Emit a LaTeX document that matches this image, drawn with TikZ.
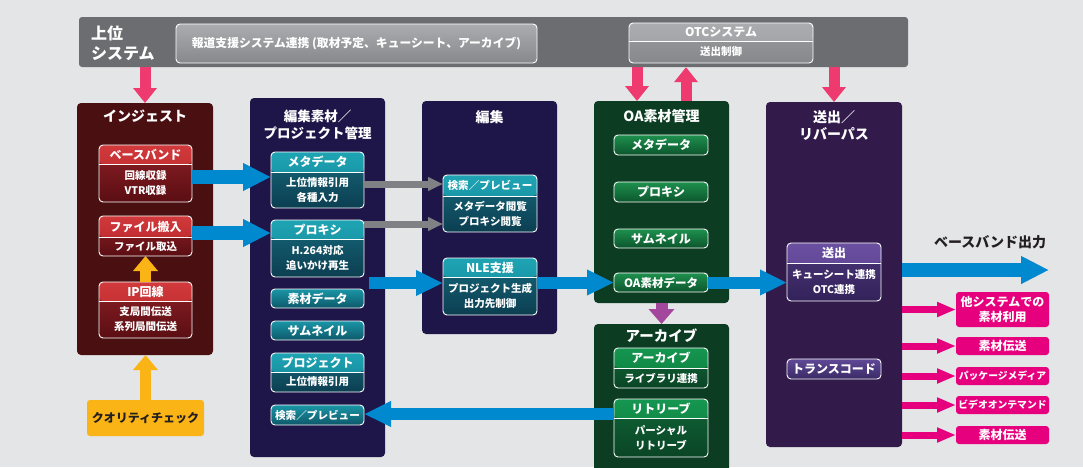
\documentclass[tikz,border=0pt]{standalone}
\usepackage{fontspec}
\setmainfont{Noto Sans CJK JP}
\usetikzlibrary{arrows.meta,calc}
\definecolor{bgc}{HTML}{E4E5E7}
\definecolor{topgray}{HTML}{6C6D70}
\definecolor{gryT}{HTML}{ABACAF}
\definecolor{gryM}{HTML}{9C9DA0}
\definecolor{gryB}{HTML}{87888B}
\definecolor{ingestc}{HTML}{4A1011}
\definecolor{navyc}{HTML}{1E1548}
\definecolor{greenc}{HTML}{0C3D22}
\definecolor{purc}{HTML}{321B4B}
\definecolor{redHT}{HTML}{D23A3C}
\definecolor{redHB}{HTML}{B02228}
\definecolor{redBT}{HTML}{8E2026}
\definecolor{redBB}{HTML}{5A0E13}
\definecolor{tealHT}{HTML}{1FA4B4}
\definecolor{tealHB}{HTML}{108292}
\definecolor{tealBT}{HTML}{16687B}
\definecolor{tealBB}{HTML}{0C3E51}
\definecolor{tealOT}{HTML}{1A96A6}
\definecolor{tealOB}{HTML}{0D586A}
\definecolor{grnHT}{HTML}{159650}
\definecolor{grnHB}{HTML}{0C7A3C}
\definecolor{grnBT}{HTML}{106537}
\definecolor{grnBB}{HTML}{0A4526}
\definecolor{grnOT}{HTML}{1E904E}
\definecolor{grnOB}{HTML}{0C552C}
\definecolor{purHT}{HTML}{6B50A2}
\definecolor{purHB}{HTML}{553B89}
\definecolor{purBT}{HTML}{4B3679}
\definecolor{purBB}{HTML}{33225A}
\definecolor{purOT}{HTML}{604896}
\definecolor{purOB}{HTML}{3A2A66}
\definecolor{arrBlue}{HTML}{0089CF}
\definecolor{arrPink}{HTML}{EE3A6E}
\definecolor{arrOrange}{HTML}{FBB416}
\definecolor{arrPurple}{HTML}{A2479B}
\definecolor{arrGray}{HTML}{808184}
\definecolor{magc}{HTML}{E6007E}
\definecolor{darktext}{HTML}{231F20}
\newcommand\myfs[2]{\fontsize{#1}{#2}\selectfont}
\tikzset{
  hdrh/.store in=\hdrH,
  sethdr/.code 2 args={\def\hT{#1}\def\hB{#2}},
  twobase/.style={draw=white, line width=0.9pt, rounded corners=4pt, inner sep=0pt, outer sep=0pt,
    path picture={
      \shade[top color=\hT, bottom color=\hB] (path picture bounding box.north west) rectangle ([yshift=-\hdrH pt]path picture bounding box.north east);
      \draw[white, line width=0.9pt] ([yshift=-\hdrH pt]path picture bounding box.north west) -- ([yshift=-\hdrH pt]path picture bounding box.north east);
    }},
  onebase/.style={draw=white, line width=0.9pt, rounded corners=4pt, inner sep=0pt, outer sep=0pt, text=white, font=\bfseries\myfs{12}{14}},
  redtwo/.style={twobase, top color=redBT, bottom color=redBB, sethdr={redHT}{redHB}},
  tealtwo/.style={twobase, top color=tealBT, bottom color=tealBB, sethdr={tealHT}{tealHB}},
  grntwo/.style={twobase, top color=grnBT, bottom color=grnBB, sethdr={grnHT}{grnHB}},
  purtwo/.style={twobase, top color=purBT, bottom color=purBB, sethdr={purHT}{purHB}},
  graytwo/.style={twobase, top color=gryM, bottom color=gryB, sethdr={gryT}{gryM}},
  tealone/.style={onebase, top color=tealOT, bottom color=tealOB},
  grnone/.style={onebase, top color=grnOT, bottom color=grnOB},
  purone/.style={onebase, top color=purOT, bottom color=purOB},
  htxt/.style={text=white, font=\bfseries\myfs{12}{14}, inner sep=0pt},
  btxt/.style={text=white, font=\bfseries\myfs{10.5}{15}, align=center, inner sep=0pt},
  ttl/.style={text=white, font=\bfseries\myfs{14}{16.5}, align=center, inner sep=0pt},
  colbox/.style={rounded corners=4pt, inner sep=0pt, outer sep=0pt},
  magbox/.style={fill=magc, rounded corners=3pt, inner sep=0pt, outer sep=0pt, text=white, font=\bfseries\myfs{12}{15}, align=center, minimum width=93pt},
  bluearr/.style={draw=arrBlue, line width=14pt, -{Triangle[length=28pt,width=26pt]}},
  bluearrs/.style={draw=arrBlue, line width=12pt, -{Triangle[length=27pt,width=24pt]}},
  pinkarr/.style={draw=arrPink, line width=11pt, -{Triangle[length=15pt,width=23pt]}},
  orarr/.style={draw=arrOrange, line width=11pt, -{Triangle[length=15pt,width=24pt]}},
  purarr/.style={draw=arrPurple, line width=12pt, -{Triangle[length=15pt,width=25pt]}},
  grayarr/.style={draw=arrGray, line width=7pt, -{Triangle[length=15pt,width=13pt]}},
  magarr/.style={draw=magc, line width=7pt, -{Triangle[length=19pt,width=14pt]}},
}
% name, style, x1, y1, x2, y2, header height, header, body
\newcommand\twobx[9]{%
  \node[#2, hdrh=#7, minimum width={#5pt-#3pt}, minimum height={#6pt-#4pt}] (#1) at ({(#3+#5)/2},{(#4+#6)/2}) {};
  \node[htxt] (#1-h) at ($(#1.north)+(0,{#7/2})$) {#8};
  \node[btxt] (#1-b) at ($(#1.center)+(0,{#7/2})$) {#9};
}
% name, style, x1, y1, x2, y2, text
\newcommand\onebx[7]{%
  \node[#2, minimum width={#5pt-#3pt}, minimum height={#6pt-#4pt}] (#1) at ({(#3+#5)/2},{(#4+#6)/2}) {#7};
}
\begin{document}
\begin{tikzpicture}[x=1pt,y=-1pt]
\useasboundingbox (0,0) rectangle (1083,467);
\clip (0,0) rectangle (1083,467);
\fill[bgc] (0,0) rectangle (1083,467);

% top bar
\node[fill=topgray, rounded corners=3pt, inner sep=0pt, minimum width=829pt, minimum height=50pt] (topbar) at (493.5,42) {};
\node[text=white, font=\bfseries\myfs{16}{20}, align=left, anchor=west, inner sep=0pt] (upper) at (91,43) {上位\\システム};
\node[draw=white, line width=0.9pt, rounded corners=4pt, top color=gryT, bottom color=gryB, inner sep=0pt, minimum width=361pt, minimum height=39pt, text=white, font=\bfseries\myfs{11.8}{13}] (hodo) at (356.5,43.5) {報道支援システム連携 (取材予定、キューシート、アーカイブ)};
\twobx{otc}{graytwo}{629}{23}{813}{63}{18}{OTCシステム}{送出制御}

% columns
\node[colbox, fill=ingestc, minimum width=136pt, minimum height=252pt] (ingest) at (145,229) {};
\node[ttl] (ingest-t) at (145,116) {インジェスト};
\node[colbox, fill=navyc, minimum width=135pt, minimum height=359pt] (edmat) at (317.5,277.5) {};
\node[ttl, font=\bfseries\myfs{13.5}{16.5}] (edmat-t) at (317.5,125) {編集素材／\\プロジェクト管理};
\node[colbox, fill=navyc, minimum width=135pt, minimum height=233pt] (edit) at (489.5,217.5) {};
\node[ttl] (edit-t) at (489.5,117) {編集};
\node[colbox, fill=greenc, minimum width=135pt, minimum height=202pt] (oa) at (661.5,202) {};
\node[ttl] (oa-t) at (661.5,116) {OA素材管理};
\node[colbox, fill=greenc, minimum width=135pt, minimum height=160pt] (archcol) at (661.5,404) {};
\node[ttl, font=\bfseries\myfs{14.5}{17}] (archcol-t) at (661.5,336) {アーカイブ};
\node[colbox, fill=purc, minimum width=136pt, minimum height=345pt] (sendcol) at (834,274.5) {};
\node[ttl] (sendcol-t) at (834,125.5) {送出／\\リバーパス};

% ingest boxes
\twobx{bb}{redtwo}{99}{145}{192}{202}{19}{ベースバンド}{回線収録\\VTR収録}
\twobx{file}{redtwo}{99}{216}{192}{256}{21}{ファイル搬入}{ファイル取込}
\twobx{ip}{redtwo}{99}{282}{192}{338}{19}{IP回線}{支局間伝送\\系列局間伝送}
\node[fill=arrOrange, rounded corners=3pt, inner sep=0pt, minimum width=117pt, minimum height=36pt, text=darktext, font=\bfseries\myfs{12}{14}] (qc) at (145.5,418) {クオリティチェック};

% edit material boxes
\twobx{meta}{tealtwo}{271}{152}{364}{208}{20}{メタデータ}{上位情報引用\\各種入力}
\twobx{proxy}{tealtwo}{271}{220}{364}{277}{19}{プロキシ}{H.264対応\\追いかけ再生}
\onebx{sozai}{tealone}{271}{289}{364}{308}{素材データ}
\onebx{thumb}{tealone}{271}{321}{364}{340}{サムネイル}
\twobx{proj}{tealtwo}{271}{353}{364}{392}{19}{プロジェクト}{上位情報引用}
\onebx{search}{tealone, font=\bfseries\myfs{10.6}{13}}{271}{405}{364}{425}{検索／プレビュー}

% edit boxes
\twobx{srch3}{tealtwo}{443}{175}{537}{232}{21}{\myfs{10.6}{13}検索／プレビュー}{メタデータ閲覧\\プロキシ閲覧}
\twobx{nle}{tealtwo}{443}{258}{537}{315}{19}{NLE支援}{プロジェクト生成\\出力先制御}

% OA boxes
\onebx{oa1}{grnone}{614}{135}{708}{155}{メタデータ}
\onebx{oa2}{grnone}{614}{182}{708}{202}{プロキシ}
\onebx{oa3}{grnone}{614}{229}{708}{248}{サムネイル}
\onebx{oa4}{grnone, font=\bfseries\myfs{11.5}{13}}{614}{273}{708}{292}{OA素材データ}

% archive boxes
\twobx{arch}{grntwo}{614}{348}{708}{388}{20}{アーカイブ}{ライブラリ連携}
\twobx{retr}{grntwo}{614}{399}{708}{457}{19}{リトリーブ}{パーシャル\\リトリーブ}

% send boxes
\twobx{send}{purtwo}{787}{243}{881}{301}{20}{送出}{キューシート連携\\OTC連携}
\onebx{trans}{purone}{787}{359}{881}{379}{トランスコード}

% output boxes
\node[magbox, minimum height=35pt] (m1) at (1002.5,309.5) {他システムでの\\素材利用};
\node[magbox, minimum height=18pt] (m2) at (1002.5,346) {素材伝送};
\node[magbox, minimum height=18pt, font=\bfseries\myfs{9.8}{12}] (m3) at (1002.5,376) {パッケージメディア};
\node[magbox, minimum height=18pt, font=\bfseries\myfs{9.8}{12}] (m4) at (1002.5,405) {ビデオオンテマンド};
\node[magbox, minimum height=18pt] (m5) at (1002.5,435) {素材伝送};
\node[text=darktext, font=\bfseries\myfs{14}{16}, inner sep=0pt] (bbout) at (990,242) {ベースバンド出力};

% pink arrows
\coordinate (pa) at (637,0);
\coordinate (pb) at (686,0);
\draw[pinkarr] (topbar.south -| ingest.north) -- (ingest.north);
\draw[pinkarr] (topbar.south -| pa) -- (oa.north -| pa);
\draw[pinkarr] (oa.north -| pb) -- (topbar.south -| pb);
\draw[pinkarr] (topbar.south -| sendcol.north) -- (sendcol.north);

% orange arrows
\draw[orarr] (ip.north) -- (file.south);
\draw[orarr] (qc.north) -- (qc.north |- ingest.south);

% purple arrow
\draw[purarr] (oa.south) -- (archcol.north);

% blue arrows
\coordinate (b1) at ([yshift=-3.5pt]bb.east);
\draw[bluearr] (b1) -- (b1 -| meta.west);
\coordinate (b2) at ([yshift=3pt]file.east);
\draw[bluearr] (b2) -- (b2 -| proxy.west);
\coordinate (b3) at (369,283);
\draw[bluearrs] (b3) -- (b3 -| nle.west);
\draw[bluearrs] (oa4.west -| nle.east) -- (oa4.west);
\draw[bluearrs] (oa4.east) -- (oa4.east -| send.west);
\coordinate (outend) at (1049,270);
\draw[bluearr] (outend -| sendcol.east) -- (outend);
\coordinate (b7) at ($(retr.north west)+(0,15)$);
\draw[bluearrs] (b7) -- (b7 -| search.east);

% gray arrows
\coordinate (g1) at ([yshift=-4pt]meta.east);
\draw[grayarr] (g1) -- (g1 -| srch3.west);
\coordinate (g2) at ([yshift=-4pt]proxy.north east);
\draw[grayarr] (g2) -- (g2 -| srch3.west);

% magenta arrows
\foreach \m in {m1,m2,m3,m4,m5}{
  \draw[magarr] (\m.west -| sendcol.east) -- (\m.west);
}
\end{tikzpicture}
\end{document}
